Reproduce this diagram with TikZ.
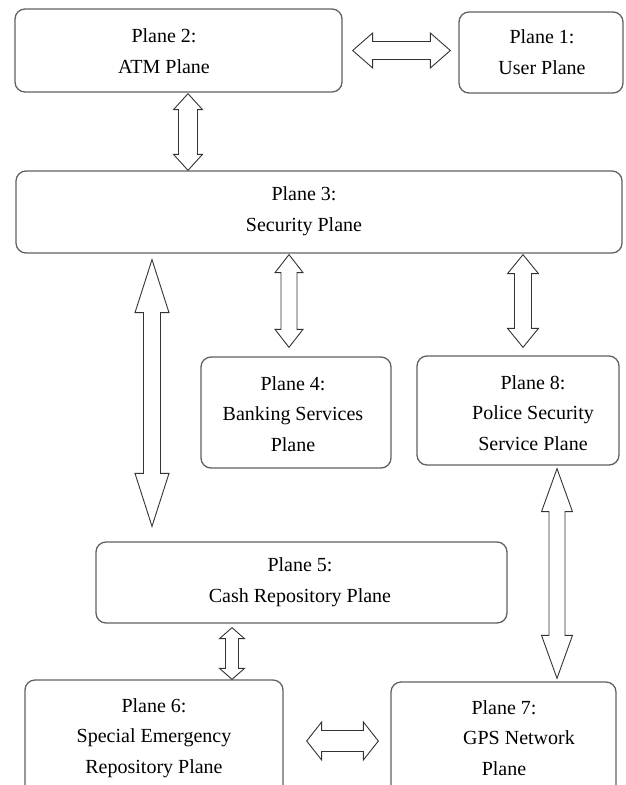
\documentclass[tikz,border=0pt]{standalone}
\usepackage{fontspec}
\setmainfont{Liberation Serif}
\usetikzlibrary{calc}
\tikzset{
  planebox/.style={draw=black!62, line width=1.3pt, rounded corners=10pt, inner sep=0pt},
  planetxt/.style={align=center, font=\fontsize{20}{30.5}\selectfont, inner sep=0pt},
  blkline/.style={draw=black!80, line width=0.9pt, fill=white, line join=miter},
  vblk/.style args={#1/#2/#3}{blkline, to path={let \p1=(\tikztostart), \p2=(\tikztotarget) in
    (\x1,\y1) -- (\x1+#2pt,\y1-#3pt) -- (\x1+#1pt,\y1-#3pt) -- (\x1+#1pt,\y2+#3pt) -- (\x1+#2pt,\y2+#3pt)
    -- (\x1,\y2) -- (\x1-#2pt,\y2+#3pt) -- (\x1-#1pt,\y2+#3pt) -- (\x1-#1pt,\y1-#3pt) -- (\x1-#2pt,\y1-#3pt) -- cycle}},
  hblk/.style args={#1/#2/#3}{blkline, to path={let \p1=(\tikztostart), \p2=(\tikztotarget) in
    (\x1,\y1) -- (\x1+#3pt,\y1+#2pt) -- (\x1+#3pt,\y1+#1pt) -- (\x2-#3pt,\y1+#1pt) -- (\x2-#3pt,\y1+#2pt)
    -- (\x2,\y1) -- (\x2-#3pt,\y1-#2pt) -- (\x2-#3pt,\y1-#1pt) -- (\x1+#3pt,\y1-#1pt) -- (\x1+#3pt,\y1-#2pt) -- cycle}}
}
\begin{document}
\begin{tikzpicture}[x=1pt, y=-1pt]
\useasboundingbox (0,0) rectangle (625,785);
\clip (0,0) rectangle (625,785);
\fill[white] (0,0) rectangle (625,785);

% boxes
\node[planebox, minimum width=327pt, minimum height=83pt] (p2) at (178.5,50.5) {};
\node[planebox, minimum width=164pt, minimum height=81pt] (p1) at (541,52.5) {};
\node[planebox, minimum width=606pt, minimum height=82pt] (p3) at (319,212) {};
\node[planebox, minimum width=190pt, minimum height=111pt] (p4) at (296,412.5) {};
\node[planebox, minimum width=202pt, minimum height=109pt] (p8) at (518,410.5) {};
\node[planebox, minimum width=411pt, minimum height=81pt] (p5) at (301.5,582.5) {};
\node[planebox, minimum width=258pt, minimum height=130pt] (p6) at (154,745) {};
\node[planebox, minimum width=225pt, minimum height=130pt] (p7) at (503.5,747) {};

% texts
\node[planetxt] (t2) at (164,51) {Plane 2:\\ATM Plane};
\node[planetxt] (t1) at (542,52) {Plane 1:\\User Plane};
\node[planetxt] (t3) at (304,211) {Plane 3:\\Security Plane};
\node[planetxt] (t4) at (293,414) {Plane 4:\\Banking Services\\Plane};
\node[planetxt] (t8) at (533,413) {Plane 8:\\Police Security\\Service Plane};
\node[planetxt] (t5) at (300,582) {Plane 5:\\Cash Repository Plane};
\node[planetxt] (t6) at (154,738) {Plane 6:\\Special Emergency\\Repository Plane};
\node[planetxt] (t7) at (504,738) {Plane 7:\\\hspace*{30pt}GPS Network\\Plane};

% block arrows
\draw[hblk=9/17.5/20] ([xshift=10pt]p2.east) to ([xshift=-8pt]p1.west);
\draw[vblk=9.5/14.5/16] ([xshift=9.5pt, yshift=-1pt]p2.south) to (p3.north);
\draw[vblk=8/14/18] ([xshift=-30pt, yshift=-1pt]p3.south) to ([yshift=9pt]p4.north);
\draw[vblk=8.5/15.5/19] ([xshift=204pt, yshift=-1pt]p3.south) to ([yshift=8pt]p8.north);
\draw[vblk=8.5/17/53] ([xshift=-167pt, yshift=-6pt]p3.south) to ([yshift=15pt]p5.north);
\draw[vblk=8/15.5/43] ([xshift=39pt, yshift=-3pt]p8.south) to ([yshift=3pt]p7.north);
\draw[vblk=6.5/12.5/11] ([xshift=-69.5pt, yshift=-4pt]p5.south) to (p6.north);
\draw[hblk=10.5/19/15] ([xshift=23pt, yshift=4pt]p6.east) to ([xshift=-12pt]p7.west);
\end{tikzpicture}
\end{document}
